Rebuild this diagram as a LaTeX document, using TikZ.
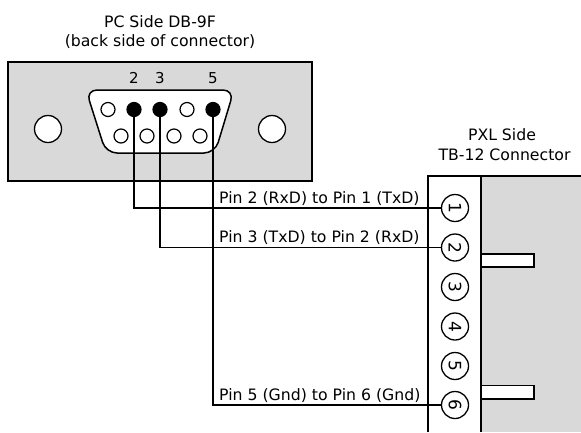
\documentclass[tikz,border=0pt]{standalone}
\usepackage{fontspec}
\setmainfont{DejaVu Sans}
\definecolor{panel}{RGB}{217,217,217}
\begin{document}
\begin{tikzpicture}[x=1pt,y=-1pt,
  outline/.style={draw=black,line width=1.5pt},
  wire/.style={draw=black,line width=1.2pt},
  hole/.style={circle,draw=black,line width=1.3pt,fill=white,minimum size=27pt,inner sep=0pt},
  pinhole/.style={circle,draw=black,line width=1.2pt,fill=white,minimum size=14pt,inner sep=0pt},
  pinfull/.style={circle,draw=black,line width=1.2pt,fill=black,minimum size=14pt,inner sep=0pt},
  tbpin/.style={circle,draw=black,line width=1.3pt,fill=white,minimum size=27pt,inner sep=0pt,font=\fontsize{17}{20}\selectfont},
  lbl/.style={font=\fontsize{15.7}{19}\selectfont,inner sep=0pt},
  pinlbl/.style={font=\fontsize{15}{18}\selectfont,inner sep=0pt},
  tab/.style={draw=black,line width=1.3pt,fill=white}]
\useasboundingbox (0,0) rectangle (581,432);
\fill[white] (0,0) rectangle (581,432);
% titles
\node[lbl] (t1) at (160,22) {PC Side DB-9F};
\node[lbl] (t2) at (160,42) {(back side of connector)};
\node[lbl] (t3) at (502,135) {PXL Side};
\node[lbl] (t4) at (504.5,155) {TB-12 Connector};
% PC panel
\draw[outline,fill=panel] (8,62) rectangle (312,181);
\node[hole] (hl) at (48,129) {};
\node[hole] (hr) at (272,129) {};
\draw[outline,fill=white,rounded corners=11pt] (86,90) -- (234,90) -- (215,153) -- (106,153) -- cycle;
\node[pinhole] (p1) at (108,109.5) {};
\node[pinfull] (p2) at (134,109.5) {};
\node[pinfull] (p3) at (160,109.5) {};
\node[pinhole] (p4) at (187,109.5) {};
\node[pinfull] (p5) at (213,109.5) {};
\node[pinhole] (p6) at (121,136) {};
\node[pinhole] (p7) at (147,136) {};
\node[pinhole] (p8) at (174,136) {};
\node[pinhole] (p9) at (200,136) {};
\node[pinlbl] (l2) at (134,78) {2};
\node[pinlbl] (l3) at (160,78) {3};
\node[pinlbl] (l5) at (213,78) {5};
% TB-12 block
\fill[panel] (481,176) rectangle (581,432);
\draw[outline] (428,432) -- (428,176) -- (581,176);
\draw[outline] (481,176) -- (481,432);
\draw[tab] (481,254) rectangle (534,267);
\draw[tab] (481,385.5) rectangle (534,399);
\node[tbpin,rotate=-90] (c1) at (455,208) {1};
\node[tbpin,rotate=-90] (c2) at (455,247.5) {2};
\node[tbpin,rotate=-90] (c3) at (455,287) {3};
\node[tbpin,rotate=-90] (c4) at (455,326.5) {4};
\node[tbpin,rotate=-90] (c5) at (455,366) {5};
\node[tbpin,rotate=-90] (c6) at (455,405) {6};
% wires
\draw[wire] (p2.center) |- (c1);
\draw[wire] (p3.center) |- (c2);
\draw[wire] (p5.center) |- (c6);
% wire labels
\node[lbl,anchor=base west] (w1) at (219,203) {Pin 2 (RxD) to Pin 1 (TxD)};
\node[lbl,anchor=base west] (w2) at (219,242) {Pin 3 (TxD) to Pin 2 (RxD)};
\node[lbl,anchor=base west] (w3) at (219,400) {Pin 5 (Gnd) to Pin 6 (Gnd)};
\end{tikzpicture}
\end{document}
